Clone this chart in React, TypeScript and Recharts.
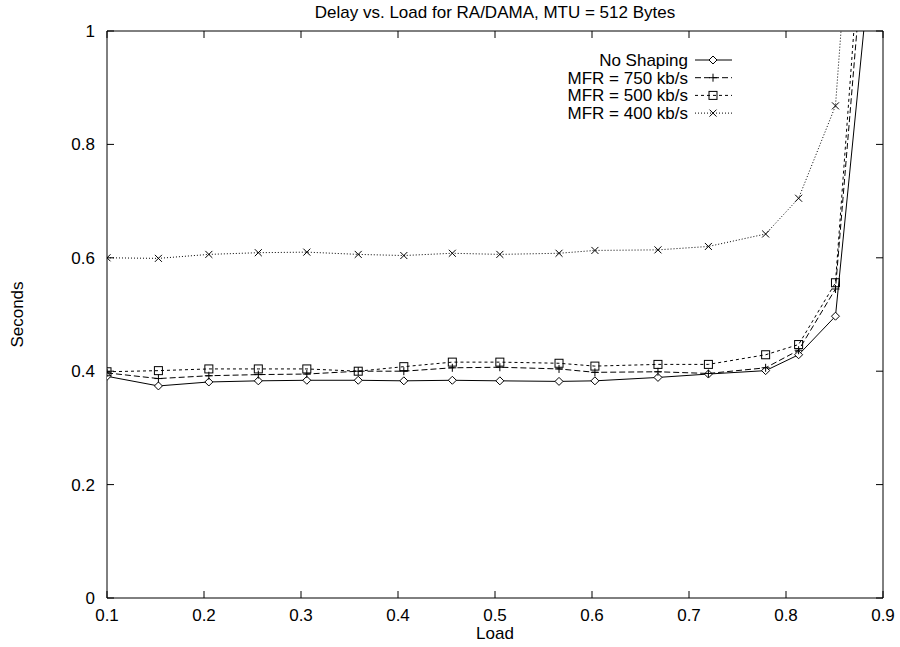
import React from "react";
import { LineChart, Line, XAxis, YAxis, ReferenceArea } from "recharts";

// offered load (x) and mean delay in seconds for each shaping setting
const LOAD = [0.1, 0.153, 0.205, 0.256, 0.306, 0.359, 0.406, 0.456, 0.505, 0.566, 0.603, 0.668, 0.72, 0.779, 0.813, 0.851, 0.89];
const NO_SHAPING = [0.391, 0.374, 0.381, 0.383, 0.384, 0.384, 0.383, 0.384, 0.383, 0.382, 0.383, 0.389, 0.395, 0.401, 0.429, 0.497, 1.17];
const MFR_750 = [0.397, 0.387, 0.392, 0.394, 0.395, 0.4, 0.4, 0.406, 0.407, 0.404, 0.398, 0.399, 0.396, 0.406, 0.437, 0.545, 1.35];
const MFR_500 = [0.399, 0.401, 0.404, 0.404, 0.404, 0.4, 0.408, 0.416, 0.416, 0.414, 0.409, 0.412, 0.412, 0.429, 0.447, 0.556, 1.47];
const MFR_400 = [0.6, 0.599, 0.606, 0.609, 0.61, 0.606, 0.604, 0.608, 0.606, 0.608, 0.613, 0.614, 0.62, 0.642, 0.705, 0.868, 1.77];

const X_TICKS = [0.1, 0.2, 0.3, 0.4, 0.5, 0.6, 0.7, 0.8, 0.9];
const Y_TICKS = [0, 0.2, 0.4, 0.6, 0.8, 1];

const TITLE = "Delay vs. Load for RA/DAMA, MTU = 512 Bytes";

const data = LOAD.map((load, i) => ({
  load,
  noShaping: NO_SHAPING[i],
  mfr750: MFR_750[i],
  mfr500: MFR_500[i],
  mfr400: MFR_400[i],
}));

const W = 900;
const H = 647;
const PLOT_LEFT = 107;
const PLOT_RIGHT = 883;
const PLOT_TOP = 31;
const PLOT_BOTTOM = 598;
const TICK = 7;
const FONT = '"Liberation Sans", Arial, Helvetica, sans-serif';
const FS = 17;

type MarkerKind = "diamond" | "plus" | "square" | "cross";

function Marker({ kind, cx, cy }: { kind: MarkerKind; cx: number; cy: number }) {
  if (cx == null || cy == null || isNaN(cx) || isNaN(cy)) return null;
  const s = 4;
  if (kind === "diamond")
    return (
      <path
        d={`M${cx},${cy - s} L${cx + s},${cy} L${cx},${cy + s} L${cx - s},${cy} Z`}
        fill="#fff"
        stroke="#000"
        strokeWidth={1}
      />
    );
  if (kind === "square")
    return <rect x={cx - s} y={cy - s} width={2 * s} height={2 * s} fill="none" stroke="#000" strokeWidth={1} />;
  if (kind === "plus")
    return <path d={`M${cx - s},${cy} H${cx + s} M${cx},${cy - s} V${cy + s}`} stroke="#000" strokeWidth={1} />;
  return (
    <path
      d={`M${cx - 3.5},${cy - 3.5} L${cx + 3.5},${cy + 3.5} M${cx - 3.5},${cy + 3.5} L${cx + 3.5},${cy - 3.5}`}
      stroke="#000"
      strokeWidth={1}
    />
  );
}

const SERIES: { key: string; name: string; dash?: string; marker: MarkerKind }[] = [
  { key: "noShaping", name: "No Shaping", marker: "diamond" },
  { key: "mfr750", name: "MFR = 750 kb/s", dash: "6 3", marker: "plus" },
  { key: "mfr500", name: "MFR = 500 kb/s", dash: "3 3", marker: "square" },
  { key: "mfr400", name: "MFR = 400 kb/s", dash: "1 2", marker: "cross" },
];

function XTick({ x, payload }: any) {
  return (
    <g>
      <line x1={x} x2={x} y1={PLOT_BOTTOM} y2={PLOT_BOTTOM - TICK} stroke="#000" />
      <line x1={x} x2={x} y1={PLOT_TOP} y2={PLOT_TOP + TICK} stroke="#000" />
      <text x={x} y={PLOT_BOTTOM + 23} textAnchor="middle" fontFamily={FONT} fontSize={FS} fill="#000">
        {Number(payload.value).toFixed(1)}
      </text>
    </g>
  );
}

function YTick({ y, payload }: any) {
  return (
    <g>
      <line x1={PLOT_LEFT} x2={PLOT_LEFT + TICK} y1={y} y2={y} stroke="#000" />
      <line x1={PLOT_RIGHT} x2={PLOT_RIGHT - TICK} y1={y} y2={y} stroke="#000" />
      <text x={PLOT_LEFT - 12} y={y + 6} textAnchor="end" fontFamily={FONT} fontSize={FS} fill="#000">
        {String(payload.value)}
      </text>
    </g>
  );
}

function SecondsLabel({ viewBox }: any) {
  const cy = viewBox ? viewBox.y + viewBox.height / 2 : (PLOT_TOP + PLOT_BOTTOM) / 2;
  return (
    <text
      transform={`translate(23, ${cy}) rotate(-90)`}
      textAnchor="middle"
      fontFamily={FONT}
      fontSize={FS}
      fill="#000"
    >
      Seconds
    </text>
  );
}

function LoadLabel({ viewBox }: any) {
  const cx = viewBox ? viewBox.x + viewBox.width / 2 : (PLOT_LEFT + PLOT_RIGHT) / 2;
  return (
    <text x={cx} y={639} textAnchor="middle" fontFamily={FONT} fontSize={FS} fill="#000">
      Load
    </text>
  );
}

function KeyBox() {
  // legend in the upper right, gnuplot style: text right aligned, sample line after it
  const textRight = 688;
  const lineX1 = 695;
  const lineX2 = 732;
  const markX = 713;
  return (
    <svg
      width={W}
      height={H}
      style={{ position: "absolute", left: 0, top: 0, pointerEvents: "none" }}
    >
      {SERIES.map((s, i) => {
        const y = 60 + i * 17.7;
        return (
          <g key={s.key}>
            <text x={textRight} y={y + 6} textAnchor="end" fontFamily={FONT} fontSize={FS} fill="#000">
              {s.name}
            </text>
            <line x1={lineX1} x2={lineX2} y1={y} y2={y} stroke="#000" strokeDasharray={s.dash} />
            <Marker kind={s.marker} cx={markX} cy={y} />
          </g>
        );
      })}
    </svg>
  );
}

export default function App() {
  return (
    <div style={{ position: "absolute", left: 0, top: 0, width: W, height: H, background: "#fff" }}>
      <div
        style={{
          position: "absolute",
          left: PLOT_LEFT,
          width: PLOT_RIGHT - PLOT_LEFT,
          top: 3,
          textAlign: "center",
          fontFamily: FONT,
          fontSize: FS,
          lineHeight: "20px",
          color: "#000",
        }}
      >
        {TITLE}
      </div>
      <LineChart
        width={W}
        height={H}
        data={data}
        margin={{ top: PLOT_TOP, right: W - PLOT_RIGHT, bottom: 0, left: 0 }}
      >
        <XAxis
          dataKey="load"
          type="number"
          domain={[0.1, 0.9]}
          ticks={X_TICKS}
          allowDataOverflow
          height={H - PLOT_BOTTOM}
          axisLine={false}
          tickLine={false}
          tick={<XTick />}
          interval={0}
          label={<LoadLabel />}
        />
        <YAxis
          type="number"
          domain={[0, 1]}
          ticks={Y_TICKS}
          allowDataOverflow
          width={PLOT_LEFT}
          axisLine={false}
          tickLine={false}
          tick={<YTick />}
          interval={0}
          label={<SecondsLabel />}
        />
        <ReferenceArea x1={0.1} x2={0.9} y1={0} y2={1} fill="none" stroke="#000" strokeWidth={1} />
        {SERIES.map((s) => (
          <Line
            key={s.key}
            dataKey={s.key}
            name={s.name}
            type="linear"
            stroke="#000"
            strokeWidth={1}
            strokeDasharray={s.dash}
            dot={(p: any) => <Marker key={`${s.key}-${p.index}`} kind={s.marker} cx={p.cx} cy={p.cy} />}
            activeDot={false}
            isAnimationActive={false}
          />
        ))}
      </LineChart>
      <KeyBox />
    </div>
  );
}
